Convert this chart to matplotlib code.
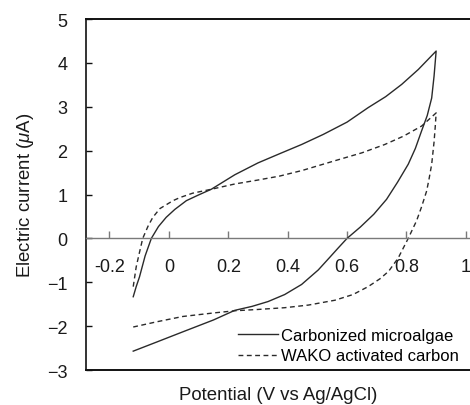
import matplotlib
matplotlib.use("Agg")
import matplotlib.pyplot as plt

plt.rcParams['font.family'] = ['Liberation Sans', 'DejaVu Sans']
plt.rcParams['mathtext.fontset'] = 'custom'
plt.rcParams['mathtext.it'] = 'Liberation Sans:italic'
plt.rcParams['mathtext.rm'] = 'Liberation Sans'

# Carbonized microalgae: anodic (forward) and cathodic (reverse) sweeps
algae_fwd_v = [-0.12, -0.11, -0.099, -0.08, -0.059, -0.035, -0.009, 0.02, 0.059, 0.10,
               0.143, 0.222, 0.30, 0.373, 0.447, 0.52, 0.60, 0.671, 0.73, 0.784, 0.84, 0.90]
algae_fwd_i = [-1.33, -1.10, -0.88, -0.40, 0.0, 0.27, 0.48, 0.66, 0.86, 0.99,
               1.12, 1.45, 1.72, 1.93, 2.14, 2.37, 2.65, 2.98, 3.23, 3.51, 3.85, 4.27]
algae_rev_v = [0.90, 0.893, 0.885, 0.87, 0.851, 0.83, 0.806, 0.77, 0.733, 0.69, 0.645, 0.60,
               0.57, 0.542, 0.503, 0.447, 0.39, 0.334, 0.28, 0.222, 0.15, 0.047, -0.04, -0.12]
algae_rev_i = [4.27, 3.70, 3.20, 2.80, 2.45, 2.05, 1.69, 1.28, 0.89, 0.55, 0.26, 0.0,
               -0.22, -0.43, -0.72, -1.05, -1.28, -1.44, -1.55, -1.64, -1.86, -2.13, -2.36, -2.57]

# WAKO activated carbon
wako_fwd_v = [-0.12, -0.11, -0.10, -0.088, -0.07, -0.054, -0.03, 0.014, 0.037, 0.08, 0.143,
              0.222, 0.30, 0.373, 0.45, 0.559, 0.65, 0.727, 0.79, 0.851, 0.90]
wako_fwd_i = [-1.10, -0.65, -0.35, 0.0, 0.28, 0.48, 0.68, 0.86, 0.93, 1.03, 1.12,
              1.24, 1.33, 1.42, 1.55, 1.77, 1.95, 2.14, 2.33, 2.56, 2.86]
wako_rev_v = [0.90, 0.897, 0.893, 0.885, 0.876, 0.868, 0.851, 0.834, 0.82, 0.806, 0.772,
              0.74, 0.711, 0.671, 0.62, 0.559, 0.47, 0.39, 0.30, 0.222, 0.15, 0.047, -0.04, -0.12]
wako_rev_i = [2.86, 2.55, 2.20, 1.69, 1.35, 1.08, 0.72, 0.40, 0.20, 0.0, -0.45,
              -0.75, -0.92, -1.10, -1.28, -1.41, -1.52, -1.58, -1.62, -1.65, -1.70, -1.78, -1.90, -2.02]

x_ticks = [-0.2, 0, 0.2, 0.4, 0.6, 0.8, 1]
x_tick_labels = ['-0.2', '0', '0.2', '0.4', '0.6', '0.8', '1']
y_ticks = [-3, -2, -1, 0, 1, 2, 3, 4, 5]

fig = plt.figure(figsize=(4.70, 4.06), dpi=100)
ax = fig.add_axes([0.183, 0.0862, 0.817, 0.8645])

line_color = '#2a2a2a'
ax.plot(algae_fwd_v + algae_rev_v, algae_fwd_i + algae_rev_i, color=line_color, lw=1.0,
        label='Carbonized microalgae')
ax.plot(wako_fwd_v + wako_rev_v, wako_fwd_i + wako_rev_i, color=line_color, lw=1.0,
        dashes=(3.5, 2.5), label='WAKO activated carbon')

ax.set_xlim(-0.279, 1.014)
ax.set_ylim(-3, 5)

# frame: left/top black, x axis running along zero
ax.spines['right'].set_visible(False)
ax.spines['left'].set_color('#111111')
ax.spines['top'].set_color('#111111')
ax.spines['left'].set_linewidth(1.2)
ax.spines['top'].set_linewidth(1.4)
ax.spines['bottom'].set_position(('data', 0))
ax.spines['bottom'].set_color('#7a7a7a')
ax.spines['bottom'].set_linewidth(1.0)
ax.plot([0, 1], [0, 0], transform=ax.transAxes, color='#111111', lw=1.4, clip_on=False)

ax.set_xticks(x_ticks)
ax.set_xticklabels(x_tick_labels)
ax.set_yticks(y_ticks)
ax.tick_params(axis='x', direction='in', length=5, width=1.0, color='#7a7a7a',
               labelsize=13, pad=14, labelcolor='#1a1a1a')
ax.tick_params(axis='y', direction='in', length=4, width=1.0, color='#111111',
               labelsize=13, pad=13.5, labelcolor='#1a1a1a')

ax.set_xlabel('Potential (V vs Ag/AgCl)', fontsize=13.4, color='#1a1a1a')
ax.xaxis.set_label_coords(0.5, -0.045)
ax.set_ylabel(r'Electric current ($\mathit{\mu}$A)', fontsize=13.4, color='#1a1a1a')
ax.yaxis.set_label_coords(-0.13, 0.5)

ax.legend(loc='lower right', bbox_to_anchor=(1.0, -0.012), frameon=False, fontsize=12,
          handlelength=2.4, handletextpad=0.2, labelspacing=0.35, borderaxespad=0.25)

fig.savefig('out.png', dpi=100)
